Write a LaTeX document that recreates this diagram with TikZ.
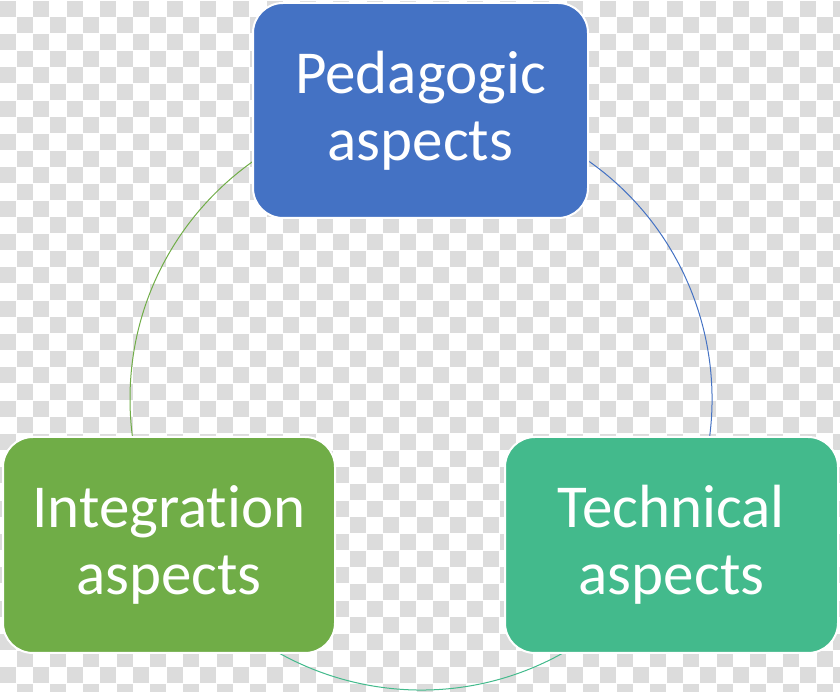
\documentclass[tikz,border=0pt]{standalone}
\usepackage{fontspec}
\setmainfont[Ligatures=NoCommon]{Carlito}
\definecolor{cblue}{HTML}{4472C4}
\definecolor{cgreen}{HTML}{70AD47}
\definecolor{cteal}{HTML}{43BA8C}
\definecolor{checkgray}{HTML}{DCDCDC}
\tikzset{
  aspectbox/.style={draw=white, line width=2pt, rounded corners=30pt, text=white,
    align=center, font=\fontsize{61}{67}\selectfont, inner sep=0pt},
  ringarc/.style={line width=1pt}
}
\begin{document}
\begin{tikzpicture}[x=1pt,y=1pt]
\useasboundingbox (0,0) rectangle (840,692);
\fill[white] (0,0) rectangle (840,692);
\def\c{16.667}
\begin{scope}
\clip (0,0) rectangle (840,692);
\foreach \i in {0,2,...,50}{
  \foreach \j in {0,2,...,40}{
    \fill[checkgray] ({\i*\c},{692-(\j+1)*\c}) rectangle ++(\c-0.8,\c-0.8);
    \fill[checkgray] ({(\i+1)*\c},{692-(\j+2)*\c}) rectangle ++(\c-0.8,\c-0.8);
  }
}
\end{scope}
\coordinate (o) at (421,293);
\draw[ringarc, cgreen] ([shift={(90:291)}]o) arc[start angle=90, end angle=210, radius=291];
\draw[ringarc, cteal] ([shift={(210:291)}]o) arc[start angle=210, end angle=330, radius=291];
\draw[ringarc, cblue] ([shift={(330:291)}]o) arc[start angle=330, end angle=450, radius=291];
\node[aspectbox, fill=cblue, minimum width=335pt, minimum height=215pt] (ped) at (420.5,581.5) {Pedagogic\\aspects};
\node[aspectbox, fill=cgreen, minimum width=332pt, minimum height=216pt] (int) at (169,147) {Integrat\kern0pt ion\\aspects};
\node[aspectbox, fill=cteal, minimum width=333pt, minimum height=216pt] (tech) at (671.5,147) {Technical\\aspects};
\end{tikzpicture}
\end{document}
